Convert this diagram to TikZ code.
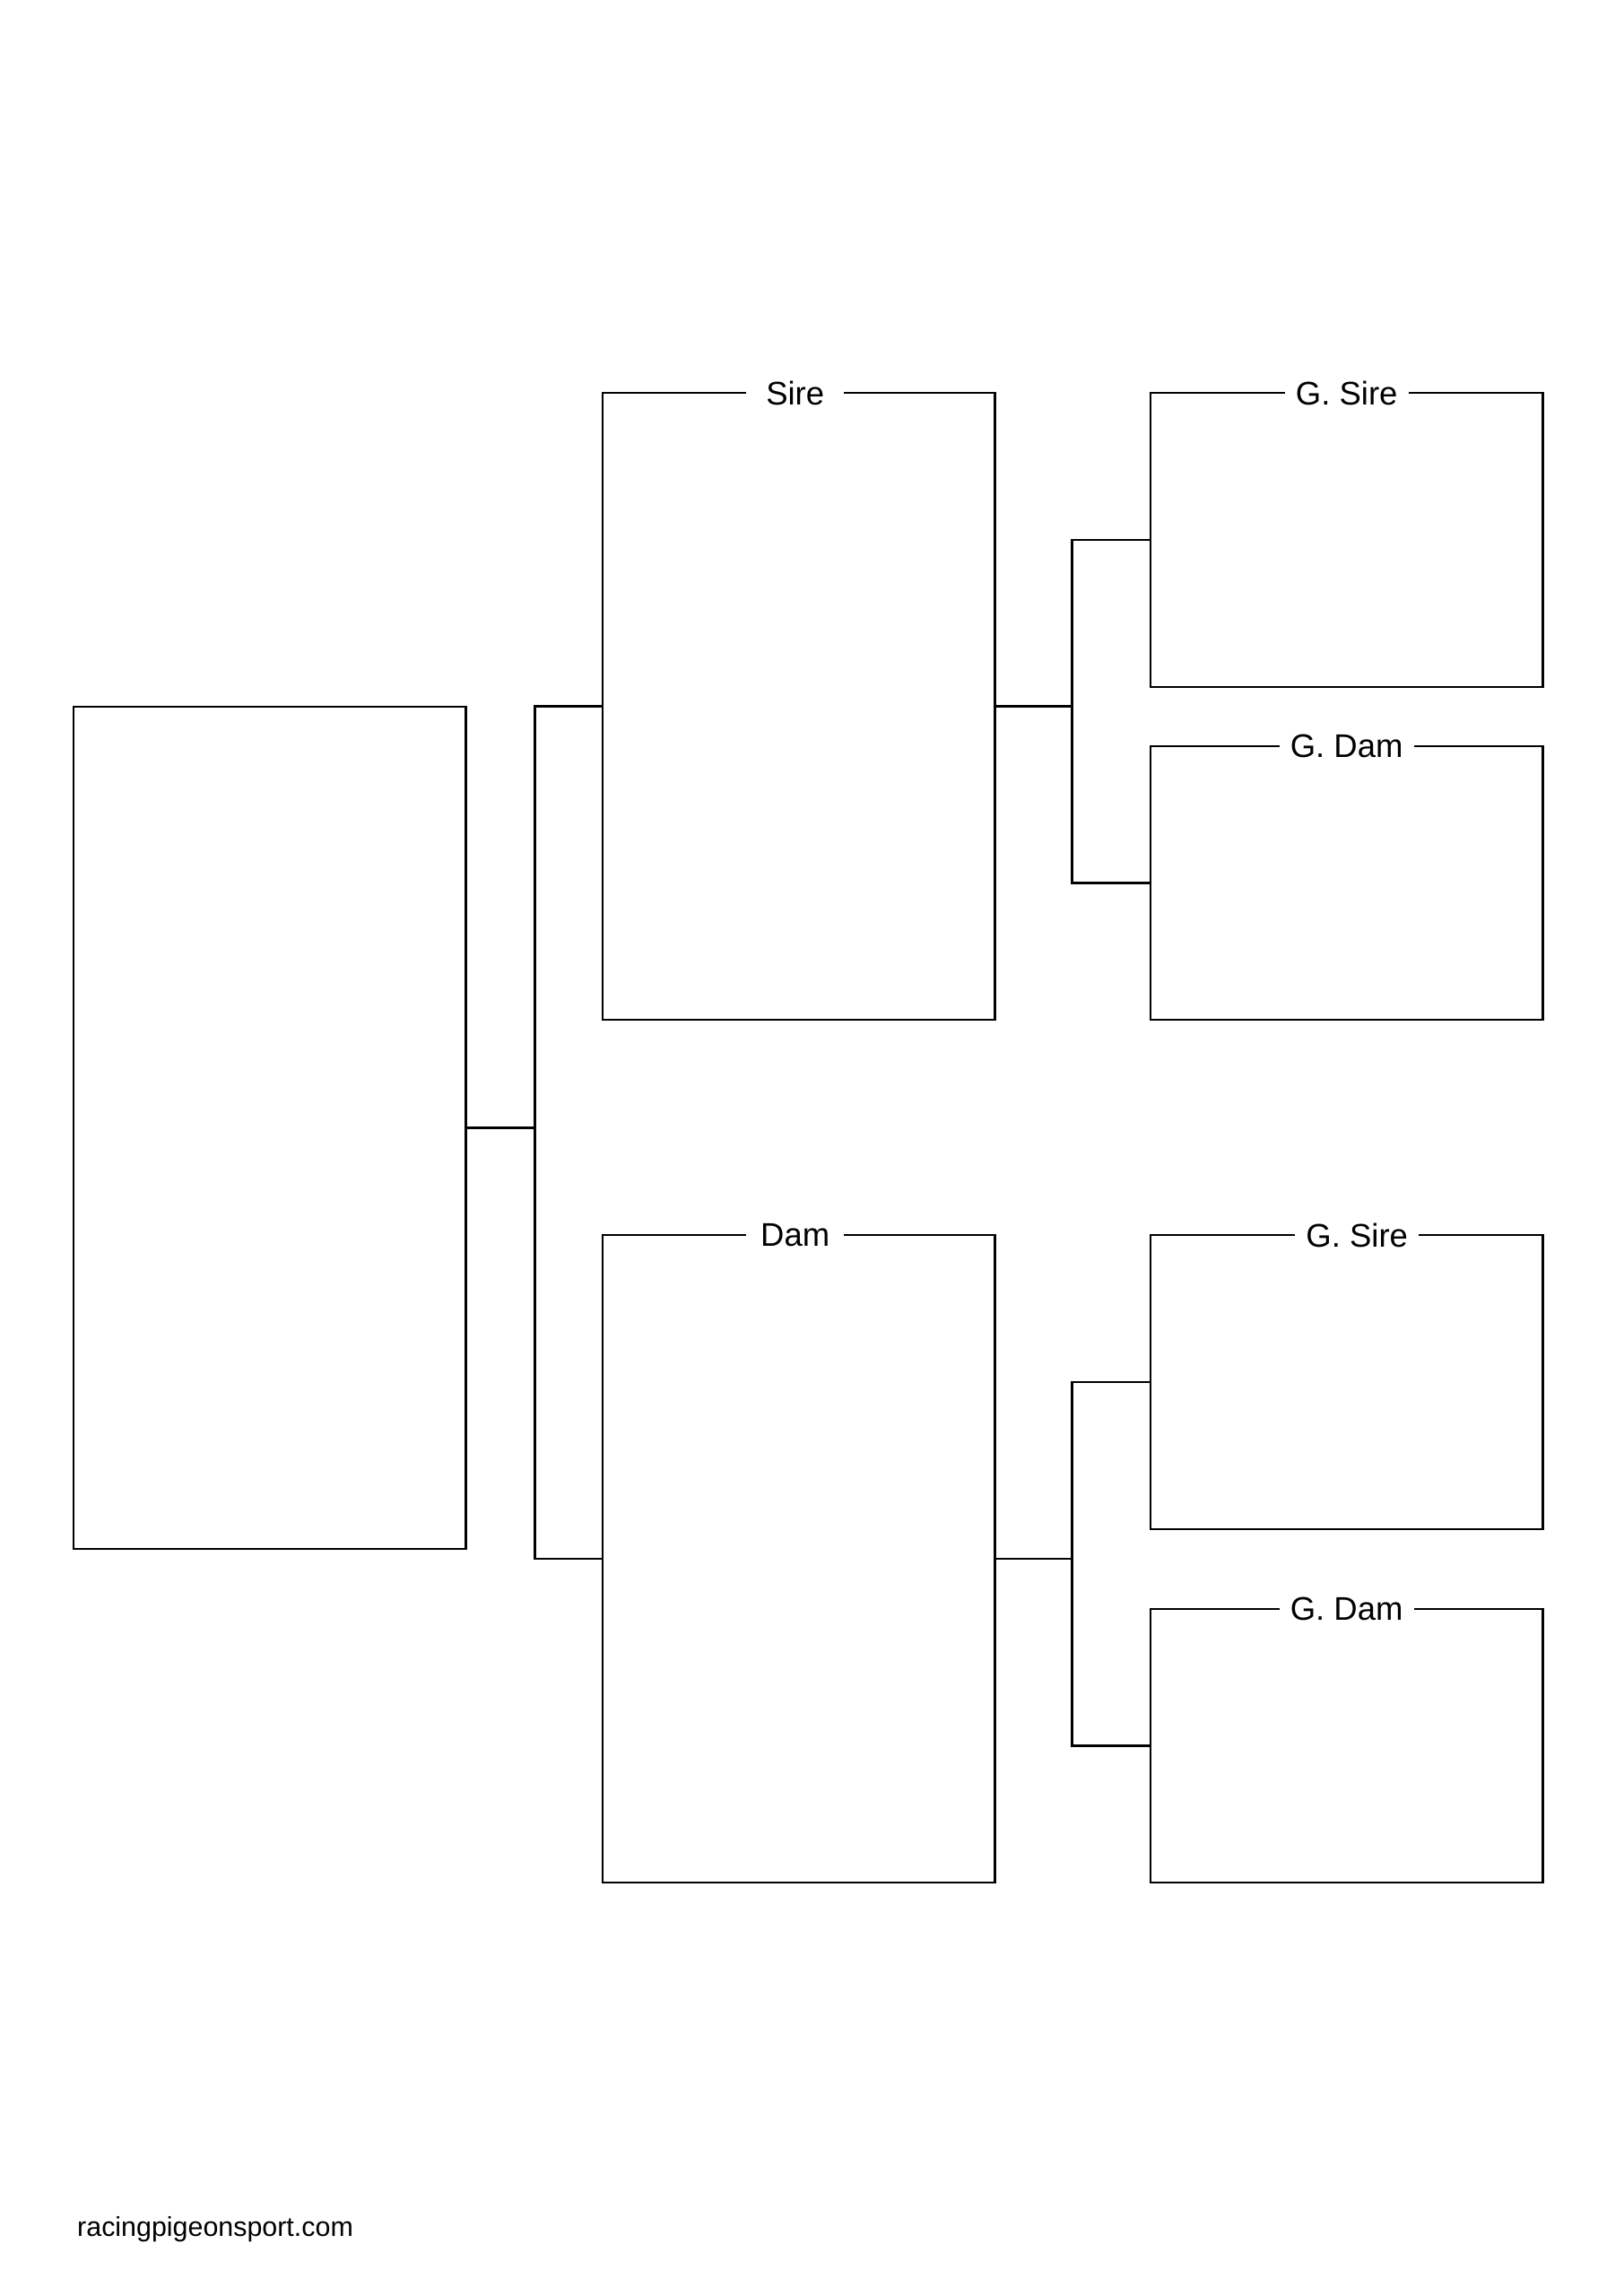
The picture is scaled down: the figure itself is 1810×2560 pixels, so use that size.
\documentclass[tikz,border=0pt]{standalone}
\usepackage{fontspec}
\setmainfont{Liberation Sans}
\begin{document}
\begin{tikzpicture}[x=0.3288pt, y=-0.3288pt, line width=0.8pt,
        pbox/.style={rectangle,draw,inner sep=0,outer sep=0,minimum width=143.8pt,anchor=north west},
        title/.style={fill=white,inner xsep=4pt,inner ysep=1pt,font=\fontsize{12}{14}\selectfont},
        wide/.style={title,minimum width=36pt}]
        \useasboundingbox (0,0) rectangle (1810,2560);
        % boxes
        \node at (82,788) [pbox,minimum height=308.7pt] (bird) {};
        \node at (672,438) [pbox,minimum height=229.8pt] (sire) {};
        \node at (672,1377) [pbox,minimum height=237.4pt] (dam) {};
        \node at (1283,438) [pbox,minimum height=107.8pt] (gsire1) {};
        \node at (1283,832) [pbox,minimum height=100.3pt] (gdam1) {};
        \node at (1283,1377) [pbox,minimum height=107.8pt] (gsire2) {};
        \node at (1283,1794) [pbox,minimum height=100.3pt] (gdam2) {};
        % titles
        \node at ([xshift=-1.3pt]sire.north) [wide] (sirelbl) {Sire};
        \node at ([xshift=-1.3pt]dam.north) [wide] (damlbl) {Dam};
        \node at (gsire1.north) [title] (gsire1lbl) {G. Sire};
        \node at (gdam1.north) [title] (gdam1lbl) {G. Dam};
        \node at ([xshift=3.8pt]gsire2.north) [title] (gsire2lbl) {G. Sire};
        \node at (gdam2.north) [title] (gdam2lbl) {G. Dam};
        % lines
        \draw (bird.east) -- ++(77,0) |- (sire.west);
        \draw (bird.east) -- ++(77,0) |- (dam.west);
        \draw (sire.east) -- ++(86,0) |- (gsire1.west);
        \draw (sire.east) -- ++(86,0) |- (gdam1.west);
        \draw (dam.east) -- ++(86,0) |- (gsire2.west);
        \draw (dam.east) -- ++(86,0) |- (gdam2.west);
        \node at (85,2493) [anchor=base west,inner sep=0,font=\fontsize{10}{12}\selectfont] (site) {racingpigeonsport.com};
\end{tikzpicture}
\end{document}
